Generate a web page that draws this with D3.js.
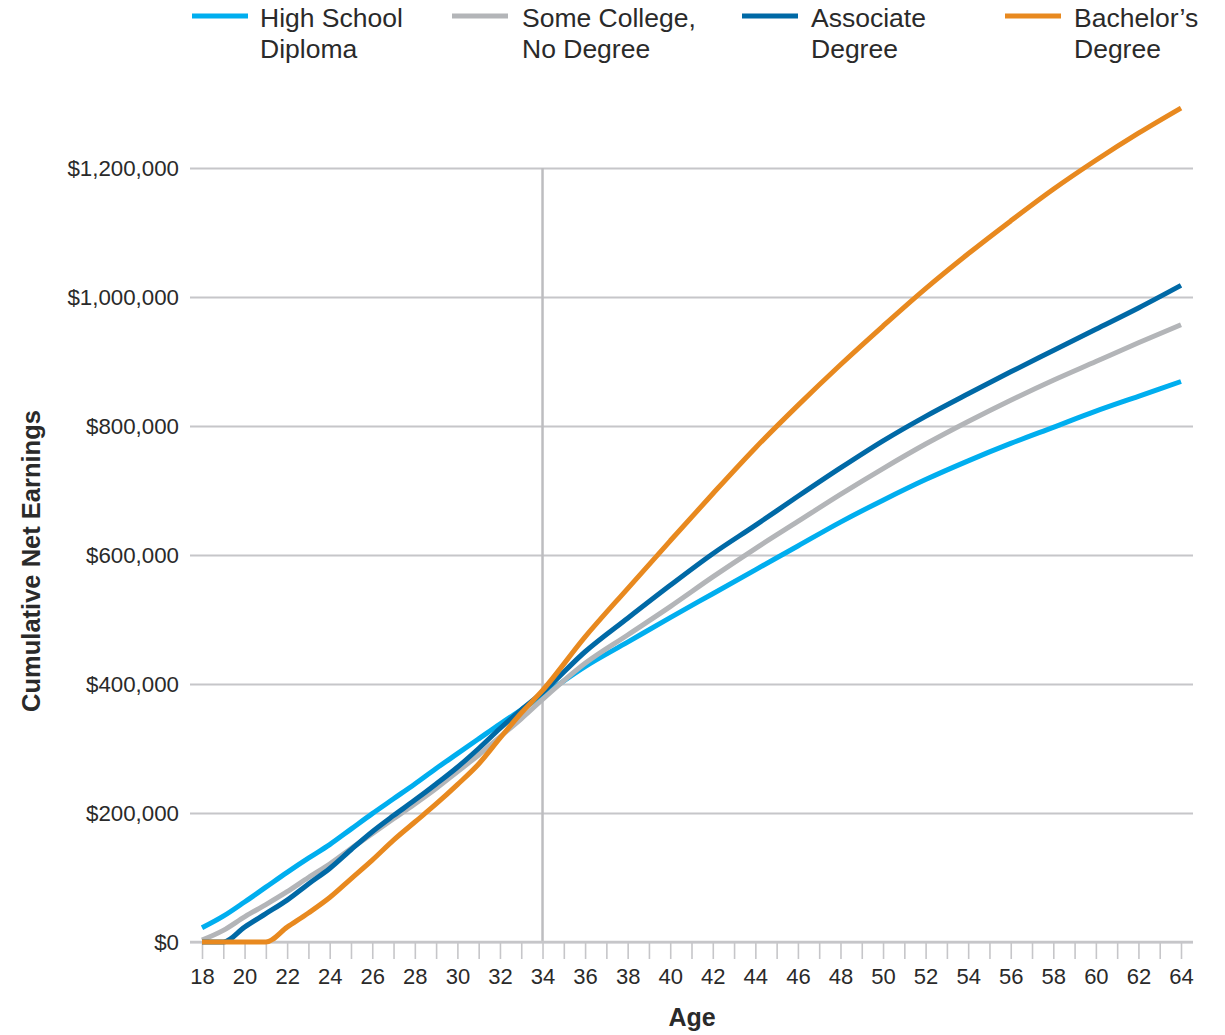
<!DOCTYPE html>
<html>
<head>
<meta charset="utf-8">
<script src="https://cdn.jsdelivr.net/npm/d3@7"></script>
<style>
  html, body { margin: 0; padding: 0; background: #fff; }
  svg { display: block; font-family: "Liberation Sans", Arial, Helvetica, sans-serif; }
</style>
</head>
<body>
<svg id="chart" width="1225" height="1035"></svg>
<script>
// ---- data (values in thousands of dollars) ----
const ages = [18,19,20,21,22,23,24,25,26,27,28,29,30,31,32,33,34,36,38,40,42,44,46,48,50,52,54,56,58,60,62,64];
const highSchool = [22,40,62,85,108,130,151,175,199,222,245,269,292,315,338,360,382,427,465,503,540,577,614,651,685,717,746,773,798,823,846,869].map(v => v*1000);
const someCollege = [3,18,39,58,78,100,121,145,168,191,214,238,264,290,318,346,376,432,476,520,566,610,652,694,734,772,807,840,871,900,929,957].map(v => v*1000);
const associate = [0,0,23,44,65,90,114,143,171,196,220,245,271,300,331,360,387,450,502,553,602,646,691,735,777,815,850,884,917,950,983,1018].map(v => v*1000);
const bachelors = [0,0,0,0,23,45,69,98,127,158,186,214,244,276,316,355,390,473,548,622,695,766,832,895,955,1013,1067,1118,1167,1212,1254,1293].map(v => v*1000);

const seriesNames = ["High School\nDiploma", "Some College,\nNo Degree", "Associate\nDegree", "Bachelor\u2019s\nDegree"];
const seriesValues = [highSchool, someCollege, associate, bachelors];
const seriesColors = ["#00aeef", "#b3b5b8", "#0069a6", "#e8891f"];

const yTicks = [0, 200000, 400000, 600000, 800000, 1000000, 1200000];
const xTickAges = d3.range(18, 65, 1);
const highlightAge = 34;

// ---- layout ----
const svg = d3.select("#chart");
const x = d3.scaleLinear().domain([18, 64]).range([202, 1181]);
const y = d3.scaleLinear().domain([0, 1200000]).range([942, 168]);
const gridLeft = 190, gridRight = 1193;
const gridColor = "#c6c6c9";
const textColor = "#2a2a2a";

// y axis with gridlines
const yAxis = svg.append("g")
  .attr("transform", `translate(${gridLeft},0)`)
  .call(d3.axisLeft(y).tickValues(yTicks)
    .tickSize(-(gridRight - gridLeft))
    .tickPadding(11)
    .tickFormat(d => "$" + d3.format(",")(d)));
yAxis.attr("font-family", null).attr("font-size", null);
yAxis.select(".domain").remove();
yAxis.selectAll(".tick line").attr("stroke", gridColor).attr("stroke-width", 2);
yAxis.selectAll(".tick text").attr("fill", textColor).style("font-size", "22.3px");

// vertical highlight line at age 34
svg.append("line")
  .attr("x1", x(highlightAge)).attr("x2", x(highlightAge))
  .attr("y1", y(1200000)).attr("y2", y(0))
  .attr("stroke", "#bdbdc0").attr("stroke-width", 2.5);

// x axis
const xAxis = svg.append("g")
  .attr("transform", `translate(0,${y(0)})`)
  .call(d3.axisBottom(x).tickValues(xTickAges)
    .tickSize(17)
    .tickPadding(9)
    .tickFormat(d => d % 2 === 0 ? d : ""));
xAxis.attr("font-family", null).attr("font-size", null);
xAxis.select(".domain").remove();
xAxis.selectAll(".tick line").attr("stroke", gridColor).attr("stroke-width", 1.6);
xAxis.selectAll(".tick text").attr("fill", textColor).style("font-size", "22px");
svg.append("line")
  .attr("x1", gridLeft).attr("x2", gridRight)
  .attr("y1", y(0)).attr("y2", y(0))
  .attr("stroke", gridColor).attr("stroke-width", 2.5);

// lines
const line = d3.line()
  .x((d, i) => x(ages[i]))
  .y(d => y(d))
  .curve(d3.curveMonotoneX);

seriesValues.forEach((vals, k) => {
  svg.append("path")
    .datum(vals)
    .attr("fill", "none")
    .attr("stroke", seriesColors[k])
    .attr("stroke-width", 5)
    .attr("stroke-linejoin", "round")
    .attr("d", line);
});

// axis titles
svg.append("text")
  .attr("transform", `translate(40,561) rotate(-90)`)
  .attr("text-anchor", "middle")
  .attr("fill", textColor)
  .style("font-size", "25.5px").style("font-weight", "bold")
  .text("Cumulative Net Earnings");

svg.append("text")
  .attr("x", 692).attr("y", 1026)
  .attr("text-anchor", "middle")
  .attr("fill", textColor)
  .style("font-size", "25px").style("font-weight", "bold")
  .text("Age");

// legend
const legendX = [192, 452, 742, 1005];
const legend = svg.append("g");
seriesNames.forEach((name, k) => {
  const g = legend.append("g").attr("transform", `translate(${legendX[k]},0)`);
  g.append("line")
    .attr("x1", 0).attr("x2", 56).attr("y1", 16).attr("y2", 16)
    .attr("stroke", seriesColors[k]).attr("stroke-width", 5);
  const t = g.append("text")
    .attr("fill", textColor)
    .style("font-size", "26.5px");
  name.split("\n").forEach((part, j) => {
    t.append("tspan").attr("x", k === 0 ? 68 : (k === 1 ? 70 : 69)).attr("y", 27 + j * 31).text(part);
  });
});
</script>
</body>
</html>
